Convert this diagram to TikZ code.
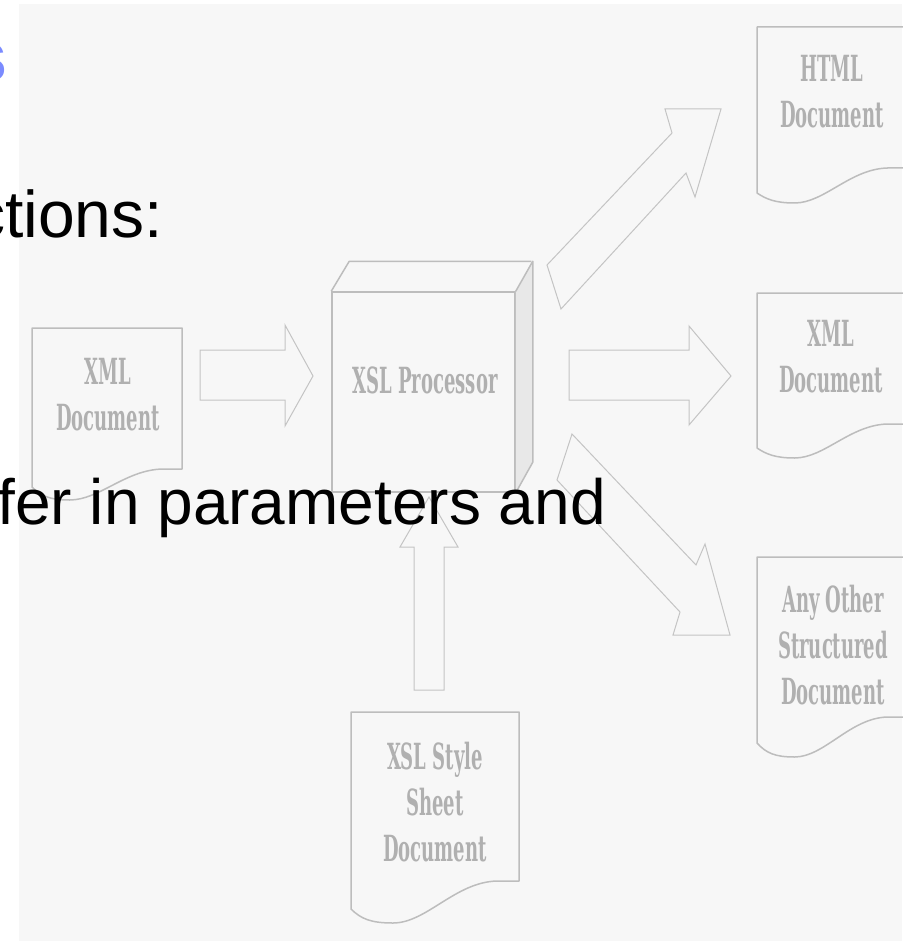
\documentclass[tikz,border=0pt]{standalone}
\usepackage{fontspec}
\setmainfont{Liberation Sans}
\newfontfamily\docfont[FakeStretch=0.5]{DejaVu Serif}
\definecolor{panel}{HTML}{F7F7F7}
\definecolor{edge}{HTML}{BDBDBD}
\definecolor{thinedge}{HTML}{C4C4C4}
\definecolor{labelgrey}{HTML}{B0B0B0}
\definecolor{sideface}{HTML}{E8E8E8}
\definecolor{titleblue}{HTML}{7B8BFF}

\tikzset{
  docline/.style={draw=edge, line width=1.5pt, line join=round},
  blockarrow/.style={draw=thinedge, line width=1pt, line join=miter},
  doclabel/.style={text=labelgrey, align=center, inner sep=0pt,
    font=\docfont\bfseries\fontsize{36}{46}\selectfont},
  bigtext/.style={inner sep=0pt},
}

% document outline: left, top, width, right-side depth, left-side depth, lowest point of the wave
\newcommand\docshape[6]{%
  \begin{scope}[shift={(#1,#2)}]
    \draw[docline] (0,0) -- (#3,0) -- (#3,#4) -- ({0.87*#3},#4)
      .. controls ({0.62*#3},{#4+1}) and ({0.45*#3},#6) .. ({0.25*#3},#6)
      .. controls ({0.12*#3},#6) and ({0.06*#3},{#6-4}) .. (0,#5) -- cycle;
  \end{scope}}

\begin{document}
\begin{tikzpicture}[x=1pt,y=-1pt]
  % page and panel
  \fill[white] (0,0) rectangle (902,941);
  \useasboundingbox (0,0) rectangle (902,941);
  \fill[panel] (19,4) rectangle (902,941);

  % documents
  \docshape{32}{328}{150}{141}{159}{172}
  \node[doclabel] (xmlin) at (108,394.5) {XML\\Document};

  \docshape{757}{27}{150}{141}{166}{176}
  \node[doclabel] (html) at (832,91.5) {HTML\\Document};

  \docshape{757}{293}{150}{131}{155}{165}
  \node[doclabel] (xmlout) at (831,356.5) {XML\\Document};

  \docshape{757}{557}{150}{160}{186}{200}
  \node[doclabel] (other) at (833,645) {Any Other\\Structured\\Document};

  \docshape{351}{712}{168}{169}{197}{211}
  \node[doclabel] (style) at (435,802) {XSL Style\\Sheet\\Document};

  % processor block with its top and side faces
  \node[draw=edge, line width=1.5pt, minimum width=183pt, minimum height=200pt,
        inner sep=0pt] (proc) at (423.5,392) {};
  \fill[sideface] (proc.north east) -- ++(17,-30) -- ++(0,201) -- (proc.south east) -- cycle;
  \draw[docline] (proc.north east) -- ++(17,-30) -- ++(0,201) -- (proc.south east);
  \draw[docline] (proc.north west) -- ++(18,-30) -- ++(182,0);
  \node[doclabel] (proclabel) at (425,380) {XSL Processor};

  % block arrows
  \draw[blockarrow] (200,350) -- (285,350) -- (285,325) -- (313,376)
    -- (285,426) -- (285,400) -- (200,400) -- cycle;
  \draw[blockarrow] (569,350) -- (689,350) -- (689,326) -- (731,376)
    -- (689,425) -- (689,400) -- (569,400) -- cycle;
  \draw[blockarrow] (414,690) -- (414,547) -- (400,547) -- (429,497)
    -- (458,547) -- (444,547) -- (444,690) -- cycle;
  \draw[blockarrow] (547,265) -- (672,133) -- (665,109) -- (721,109)
    -- (695,197) -- (686,173) -- (561,309) -- cycle;
  \draw[blockarrow] (572,434) -- (696,565) -- (705,544) -- (730,635)
    -- (673,635) -- (680,612) -- (557,480) -- cycle;

  % slide text lying over the figure
  \node[bigtext, text=titleblue, font=\bfseries\fontsize{72}{76}\selectfont,
        anchor=base east] (title) at (8,82) {s};
  \node[bigtext, font=\fontsize{66}{70}\selectfont, anchor=base east] (line1) at (163,237) {ctions:};
  \node[bigtext, font=\fontsize{64}{68}\selectfont, anchor=base east] (line2) at (606,524) {fer in parameters and};
\end{tikzpicture}
\end{document}
